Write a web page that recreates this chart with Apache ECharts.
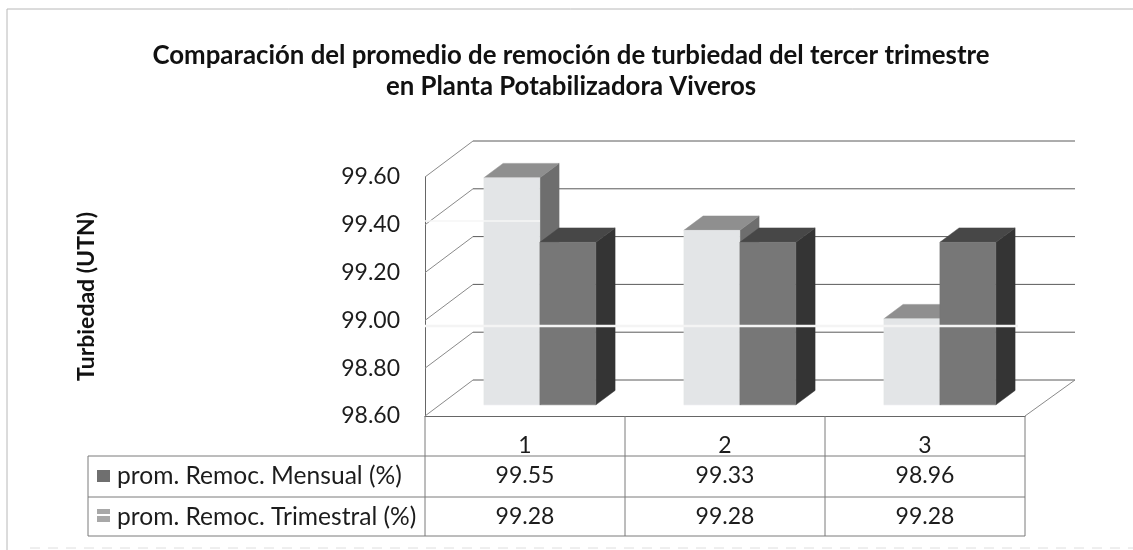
<!DOCTYPE html>
<html><head><meta charset="utf-8">
<style>html,body{margin:0;padding:0;background:#fff}#c{width:1133px;height:550px}</style>
<script src="https://cdn.jsdelivr.net/npm/echarts@6/dist/echarts.min.js"></script>
</head><body><div id="c"></div>
<script>
const categories = ['1','2','3'];
const mensual = [99.55,99.33,98.96];
const trimestral = [99.28,99.28,99.28];
const yTicks = [98.6,98.8,99.0,99.2,99.4,99.6];
const yMin = 98.6, yMax = 99.6, yStep = 0.2;
const mensualName = 'prom. Remoc. Mensual (%)';
const trimestralName = 'prom. Remoc. Trimestral (%)';
const titleText = 'Comparación del promedio de remoción de turbiedad del tercer trimestre\nen Planta Potabilizadora Viveros';
const yName = 'Turbiedad (UTN)';

const FONT = 'Lato';
const DX = 48, DY = -36;        // depth vector of the 3D box
const Z0 = 0.31, Z1 = 0.71;     // bar depth span
const LINE = '#666666';
const TEXT = '#1c1c1c';

function lineEl(x1,y1,x2,y2,stroke,w){
  return {type:'line',shape:{x1,y1,x2,y2},style:{stroke:stroke||LINE,lineWidth:w||1}};
}
function poly(points,fill){ return {type:'polygon',shape:{points},style:{fill,stroke:fill,lineWidth:0.5}}; }

function barRender(side, colors){
  return function(params, api){
    const c = api.coord([api.value(0), api.value(1)]);
    const b = api.coord([api.value(0), yMin]);
    const band = api.size([1,0])[0];
    const w = band*0.28;
    const x0 = c[0] + Z0*DX + (side<0 ? -w : 0), x1 = x0 + w;
    const yt = c[1] + Z0*DY, yb = b[1] + Z0*DY;
    const ox = (Z1-Z0)*DX, oy = (Z1-Z0)*DY;
    return {type:'group',children:[
      poly([[x1,yt],[x1+ox,yt+oy],[x1+ox,yb+oy],[x1,yb]],colors.side),
      poly([[x0,yt],[x0+ox,yt+oy],[x1+ox,yt+oy],[x1,yt]],colors.top),
      poly([[x0,yt],[x1,yt],[x1,yb],[x0,yb]],colors.front)
    ]};
  };
}

function wallRender(params, api){
  const band = api.size([1,0])[0];
  const first = api.coord([0, api.value(0)]);
  const last = api.coord([categories.length-1, api.value(0)]);
  const l = first[0]-band/2, r = last[0]+band/2, y = first[1];
  const ch = [
    lineEl(l,y,l+DX,y+DY,'#8a8a8a'),
    lineEl(l+DX,y+DY,r+DX+2,y+DY,'#5a5a5a')
  ];
  if (api.value(0) === yMin) ch.push(lineEl(r,y,r+DX+2,y+DY,'#8a8a8a'));
  return {type:'group',children:ch};
}

function tableRender(params, api){
  const i = api.value(0);
  const c = api.coord([i, yMin]);
  const band = api.size([1,0])[0];
  const yTop = c[1], h = 40;
  const l = c[0]-band/2, r = c[0]+band/2;
  const labelStyle = (text,x,y,align,size) => ({type:'text',style:{text,x,y,align:align,verticalAlign:'middle',fontFamily:FONT,fontSize:size||23,fill:TEXT}});
  const ch = [
    lineEl(r,yTop,r,yTop+3*h,'#7a7a7a'),
    lineEl(l,yTop+h,r,yTop+h,'#7a7a7a'),
    lineEl(l,yTop+2*h+1,r,yTop+2*h+1,'#7a7a7a'),
    lineEl(l,yTop+3*h,r,yTop+3*h,'#7a7a7a'),
    labelStyle(String(mensual[i]),c[0],yTop+60,'center'),
    labelStyle(String(trimestral[i]),c[0],yTop+101,'center')
  ];
  if (i === 0) {
    const tl = 88;
    ch.push(lineEl(l,yTop,l,yTop+3*h,'#7a7a7a'));
    ch.push(lineEl(tl,yTop+h,l,yTop+h,'#7a7a7a'));
    ch.push(lineEl(tl,yTop+2*h+1,l,yTop+2*h+1,'#7a7a7a'));
    ch.push(lineEl(tl,yTop+3*h,l,yTop+3*h,'#7a7a7a'));
    ch.push(lineEl(tl,yTop+h,tl,yTop+3*h,'#7a7a7a'));
    ch.push({type:'rect',shape:{x:97,y:yTop+54,width:13,height:12},style:{fill:'#6f6f6f'}});
    ch.push({type:'rect',shape:{x:97,y:yTop+93,width:13,height:5},style:{fill:'#a8a8a8'}});
    ch.push({type:'rect',shape:{x:97,y:yTop+100,width:13,height:6},style:{fill:'#a8a8a8'}});
    ch.push(labelStyle(mensualName,117,yTop+60,'left',24.6));
    ch.push(labelStyle(trimestralName,117,yTop+101,'left',24.6));
  }
  return {type:'group',children:ch};
}

const chart = echarts.init(document.getElementById('c'));
chart.setOption({
  animation:false,
  backgroundColor:'#ffffff',
  title:{text:titleText,left:566,top:35,textAlign:'center',
    textStyle:{fontFamily:FONT,fontWeight:'bold',fontSize:25.8,lineHeight:31,color:'#111'}},
  grid:{left:425,right:108,top:177,bottom:134},
  xAxis:{type:'category',data:categories,axisLine:{show:true,lineStyle:{color:LINE}},axisTick:{show:false},
    axisLabel:{fontFamily:FONT,fontSize:23,color:TEXT,margin:18}},
  yAxis:{type:'value',min:yMin,max:yMax,interval:yStep,
    name:yName,nameLocation:'middle',nameGap:327,nameRotate:90,
    nameTextStyle:{fontFamily:FONT,fontWeight:'bold',fontSize:23,color:'#111'},
    axisLine:{show:true,lineStyle:{color:LINE}},axisTick:{show:false},splitLine:{show:false},
    axisLabel:{fontFamily:FONT,fontSize:23,color:TEXT,margin:25,formatter:v=>v.toFixed(2)}},
  graphic:[
    {type:'rect',silent:true,z:-1,shape:{x:7,y:9,width:1135,height:560},style:{fill:'none',stroke:'#b8b8b8',lineWidth:1}},
    {type:'line',silent:true,z:100,shape:{x1:425,y1:326,x2:1018,y2:326},style:{stroke:'#f4f4f4',lineWidth:2.5}},
    {type:'line',silent:true,z:100,shape:{x1:425,y1:221,x2:540,y2:221},style:{stroke:'#f6f6f6',lineWidth:1.5}},
    {type:'line',silent:true,z:100,shape:{x1:30,y1:548,x2:1133,y2:548},style:{stroke:'#dedede',lineWidth:1,lineDash:[10,8]}}
  ],
  series:[
    {type:'custom',name:'walls',renderItem:wallRender,data:yTicks.map(v=>[v]),encode:{y:0},clip:false,silent:true,z:1},
    {type:'custom',name:'table',renderItem:tableRender,data:categories.map((c,i)=>[i,yMin]),encode:{x:0,y:1},clip:false,silent:true,z:1},
    {type:'custom',name:mensualName,renderItem:barRender(-1,{front:'#e3e5e7',side:'#6e6e6e',top:'#8f8f8f'}),
      data:mensual.map((v,i)=>[i,v]),encode:{x:0,y:1},clip:false,z:2},
    {type:'custom',name:trimestralName,renderItem:barRender(1,{front:'#777777',side:'#343434',top:'#474747'}),
      data:trimestral.map((v,i)=>[i,v]),encode:{x:0,y:1},clip:false,z:3}
  ]
});
</script></body></html>
